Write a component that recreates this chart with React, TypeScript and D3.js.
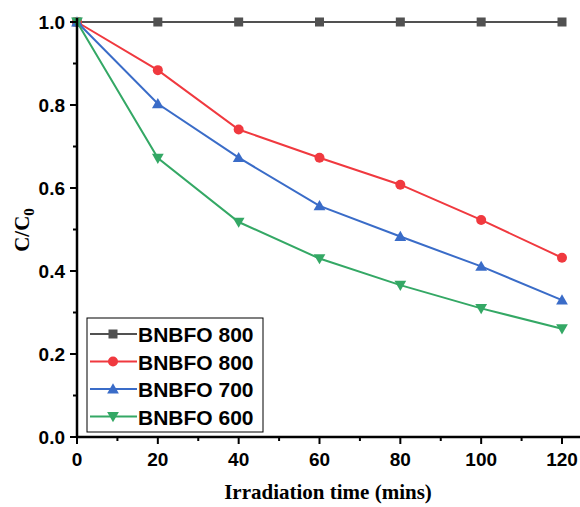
import React from 'react';
import * as d3 from 'd3';

const times = [0, 20, 40, 60, 80, 100, 120];
const labels = ['BNBFO 800', 'BNBFO 800', 'BNBFO 700', 'BNBFO 600'];
const s0 = [1.0, 1.0, 1.0, 1.0, 1.0, 1.0, 1.0];
const s1 = [1.0, 0.884, 0.741, 0.673, 0.608, 0.523, 0.432];
const s2 = [1.0, 0.803, 0.673, 0.557, 0.483, 0.411, 0.330];
const s3 = [1.0, 0.672, 0.518, 0.430, 0.366, 0.310, 0.261];
const colors = ['#515151', '#f0393f', '#3a6cc8', '#34a865'];
const shapes = ['square', 'circle', 'triangle', 'down'];
const xTicks = [0, 20, 40, 60, 80, 100, 120];
const yTicks = [0, 0.2, 0.4, 0.6, 0.8, 1.0];

const W = 580, H = 507;
const x = d3.scaleLinear().domain([0, 120]).range([77, 562]);
const y = d3.scaleLinear().domain([0, 1]).range([437, 22]);

function Marker({ shape, cx, cy, color }: { shape: string; cx: number; cy: number; color: string }) {
  if (shape === 'square') return <rect x={cx - 4.5} y={cy - 4.5} width={9} height={9} fill={color} />;
  if (shape === 'circle') return <circle cx={cx} cy={cy} r={5} fill={color} />;
  const sym = d3.symbol().type(d3.symbolTriangle).size(60)();
  return <path d={sym || ''} fill={color} transform={`translate(${cx},${cy + (shape === 'down' ? -1 : 1)}) rotate(${shape === 'down' ? 180 : 0})`} />;
}

export default function App() {
  const series = [s0, s1, s2, s3];
  const line = d3.line<number>().x((_, i) => x(times[i])).y(d => y(d));
  const minorX = d3.range(10, 125, 20);
  const minorY = d3.range(0.1, 1.0, 0.2);
  const sans = 'Liberation Sans, Arial, sans-serif';
  const serif = 'Liberation Serif, Times New Roman, serif';
  return (
    <svg width={W} height={H} style={{ position: 'absolute', left: 0, top: 0, background: '#fff' }}>
      {series.map((s, k) => (
        <g key={k}>
          <path d={line(s) || ''} fill="none" stroke={colors[k]} strokeWidth={2} />
          {s.map((v, i) => <Marker key={i} shape={shapes[k]} cx={x(times[i])} cy={y(v)} color={colors[k]} />)}
        </g>
      ))}
      {/* axes */}
      <line x1={77} x2={77} y1={18} y2={438} stroke="#000" strokeWidth={2.5} />
      <line x1={76} x2={580} y1={437} y2={437} stroke="#000" strokeWidth={2.5} />
      {xTicks.map(t => (
        <g key={t}>
          <line x1={x(t)} x2={x(t)} y1={437} y2={444} stroke="#000" strokeWidth={2} />
          <text x={x(t)} y={466} textAnchor="middle" fontFamily={sans} fontWeight="bold" fontSize={19}>{t}</text>
        </g>
      ))}
      {minorX.map(t => <line key={t} x1={x(t)} x2={x(t)} y1={437} y2={441} stroke="#000" strokeWidth={2} />)}
      {yTicks.map(t => (
        <g key={t}>
          <line x1={70} x2={77} y1={y(t)} y2={y(t)} stroke="#000" strokeWidth={2} />
          <text x={65} y={y(t) + 7} textAnchor="end" fontFamily={sans} fontWeight="bold" fontSize={19}>{t.toFixed(1)}</text>
        </g>
      ))}
      {minorY.map(t => <line key={t} x1={73} x2={77} y1={y(t)} y2={y(t)} stroke="#000" strokeWidth={2} />)}
      <text x={328} y={499} textAnchor="middle" fontFamily={serif} fontWeight="bold" fontSize={21}>Irradiation time (mins)</text>
      <text transform="translate(29,230) rotate(-90)" textAnchor="middle" fontFamily={serif} fontWeight="bold" fontSize={21}>
        C/C<tspan fontSize={15} dy={5}>0</tspan>
      </text>
      {/* legend */}
      <rect x={87} y={318} width={176} height={114} fill="#fff" stroke="#000" strokeWidth={1} />
      {labels.map((l, k) => {
        const ly = 334 + k * 27.5;
        return (
          <g key={k}>
            <line x1={90} x2={137} y1={ly} y2={ly} stroke={colors[k]} strokeWidth={2} />
            <Marker shape={shapes[k]} cx={113} cy={ly} color={colors[k]} />
            <text x={138} y={ly + 8} fontFamily={sans} fontWeight="bold" fontSize={21}>{l}</text>
          </g>
        );
      })}
    </svg>
  );
}
